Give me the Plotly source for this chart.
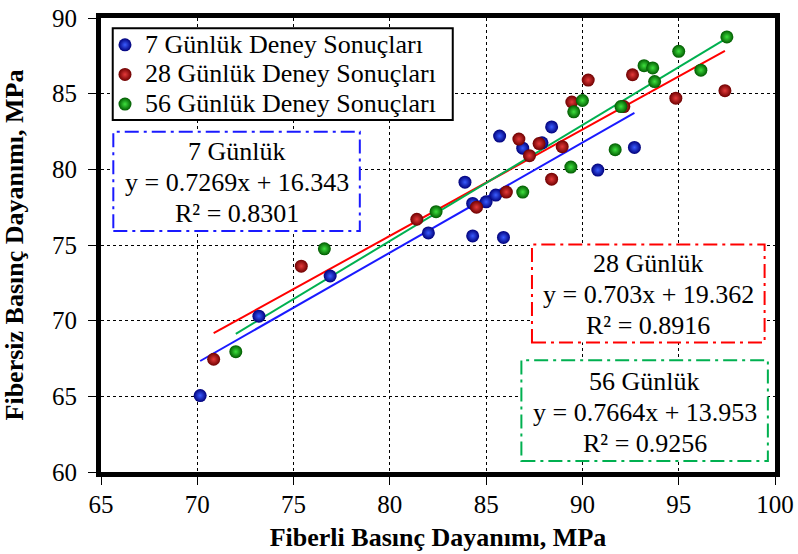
import plotly.graph_objects as go

# ---- data ----
x7 = [70.15, 73.2, 76.9, 82.0, 83.9, 84.3, 84.3, 85.0, 85.5, 85.9, 85.7, 86.9, 87.9, 88.4, 90.8, 92.7]
y7 = [65.05, 70.3, 72.95, 75.8, 79.15, 75.6, 77.75, 77.85, 78.3, 75.5, 82.2, 81.4, 81.75, 82.8, 79.95, 81.45]

x28 = [70.85, 75.4, 81.4, 84.5, 86.05, 86.7, 87.25, 87.75, 88.4, 88.95, 89.45, 90.3, 92.15, 92.6, 94.85, 97.4]
y28 = [67.45, 73.6, 76.7, 77.5, 78.5, 82.0, 80.9, 81.7, 79.35, 81.5, 84.45, 85.9, 84.15, 86.25, 84.7, 85.2]

x56 = [72.0, 76.6, 82.4, 86.9, 89.4, 89.55, 90.0, 91.7, 92.0, 93.2, 93.65, 93.75, 95.0, 96.15, 97.5]
y56 = [67.95, 74.75, 77.2, 78.5, 80.15, 83.8, 84.55, 81.3, 84.15, 86.85, 86.7, 85.8, 87.8, 86.55, 88.75]

series_names = ["7 Günlük Deney Sonuçları", "28 Günlük Deney Sonuçları", "56 Günlük Deney Sonuçları"]
fit_labels = ["7 Günlük", "28 Günlük", "56 Günlük"]
slopes = [0.7269, 0.703, 0.7664]
intercepts = [16.343, 19.362, 13.953]
r2_values = ["0.8301", "0.8916", "0.9256"]

x_ticks = [65, 70, 75, 80, 85, 90, 95, 100]
y_ticks = [60, 65, 70, 75, 80, 85, 90]

# ---- styles ----
FONT = "Liberation Serif"
edge_colors = ["#00007a", "#6e0000", "#005a00"]
center_colors = ["#3a5cff", "#e43a3a", "#3ee03e"]
line_colors = ["#1a1aff", "#ff0000", "#00b050"]

fig = go.Figure()

xs = [x7, x28, x56]
ys = [y7, y28, y56]

# trend lines
for i in range(3):
    xmin, xmax = min(xs[i]), max(xs[i])
    fig.add_trace(go.Scatter(
        x=[xmin, xmax],
        y=[slopes[i] * xmin + intercepts[i], slopes[i] * xmax + intercepts[i]],
        mode="lines", line=dict(color=line_colors[i], width=2),
        showlegend=False, hoverinfo="skip"))

# points
for i in range(3):
    fig.add_trace(go.Scatter(
        x=xs[i], y=ys[i], mode="markers",
        name=f'<span style="font-size:26px">{series_names[i]}</span>',
        marker=dict(size=13, color=edge_colors[i], line=dict(width=0),
                    gradient=dict(type="radial", color=center_colors[i]))))

# legend frame (paper coords)
shapes = [dict(type="rect", xref="paper", yref="paper",
               x0=0.0174, x1=0.5219, y0=0.7753, y1=0.9773,
               line=dict(color="black", width=2), fillcolor="white", layer="above")]

# equation boxes (data coords of box corners)
boxes = [
    (65.64, 78.44, 75.92, 82.49),
    (87.38, 99.46, 68.56, 75.04),
    (86.83, 99.63, 60.73, 67.39),
]
annotations = []
for i, (x0, x1, y0, y1) in enumerate(boxes):
    shapes.append(dict(type="rect", xref="x", yref="y", x0=x0, x1=x1, y0=y0, y1=y1,
                       line=dict(color=line_colors[i], width=2, dash="14px,5px,3px,5px"),
                       fillcolor="white", layer="above"))
    lines = [fit_labels[i],
             f"y = {slopes[i]}x + {intercepts[i]}",
             f"R² = {r2_values[i]}"]
    yc = (y0 + y1) / 2
    step = 2.05
    for j, t in enumerate(lines):
        annotations.append(dict(x=(x0 + x1) / 2, y=yc + (1 - j) * step - 0.1, xref="x", yref="y",
                                text=t, showarrow=False,
                                font=dict(family=FONT, size=26, color="black"),
                                xanchor="center", yanchor="middle"))

axis_common = dict(
    showline=True, linecolor="black", linewidth=5, mirror=True,
    ticks="outside", ticklen=8, tickwidth=1, tickcolor="black",
    showgrid=True, gridcolor="black", gridwidth=1, griddash="dot",
    zeroline=False, automargin=False, ticklabeloverflow="allow",
    tickfont=dict(family=FONT, size=25, color="black"),
)

fig.update_layout(
    width=798, height=554,
    margin=dict(l=101, r=23, t=18, b=82),
    paper_bgcolor="white", plot_bgcolor="white",
    shapes=shapes, annotations=annotations,
    xaxis=dict(range=[65, 100], tickvals=x_ticks, ticklabelstandoff=-2, **axis_common,
               title=dict(text="<b>Fiberli Basınç Dayanımı, MPa</b>",
                          font=dict(family=FONT, size=26, color="black"), standoff=12)),
    yaxis=dict(range=[60, 90], tickvals=y_ticks, ticklabelstandoff=6, **axis_common,
               title=dict(text="<b>Fibersiz Basınç Dayanımı, MPa</b>",
                          font=dict(family=FONT, size=26, color="black"), standoff=23)),
    legend=dict(x=0.0059, y=0.9846, xanchor="left", yanchor="top",
                bgcolor="rgba(0,0,0,0)", borderwidth=0,
                font=dict(family=FONT, size=20.5, color="black"),
                itemwidth=30, tracegroupgap=0),
    showlegend=True,
)

# remove the default page margin so the 798x554 figure fills the window exactly
fig.write_html("out.html", config={"displayModeBar": False},
               post_script="document.body.style.margin='0';document.body.style.overflow='hidden';")
